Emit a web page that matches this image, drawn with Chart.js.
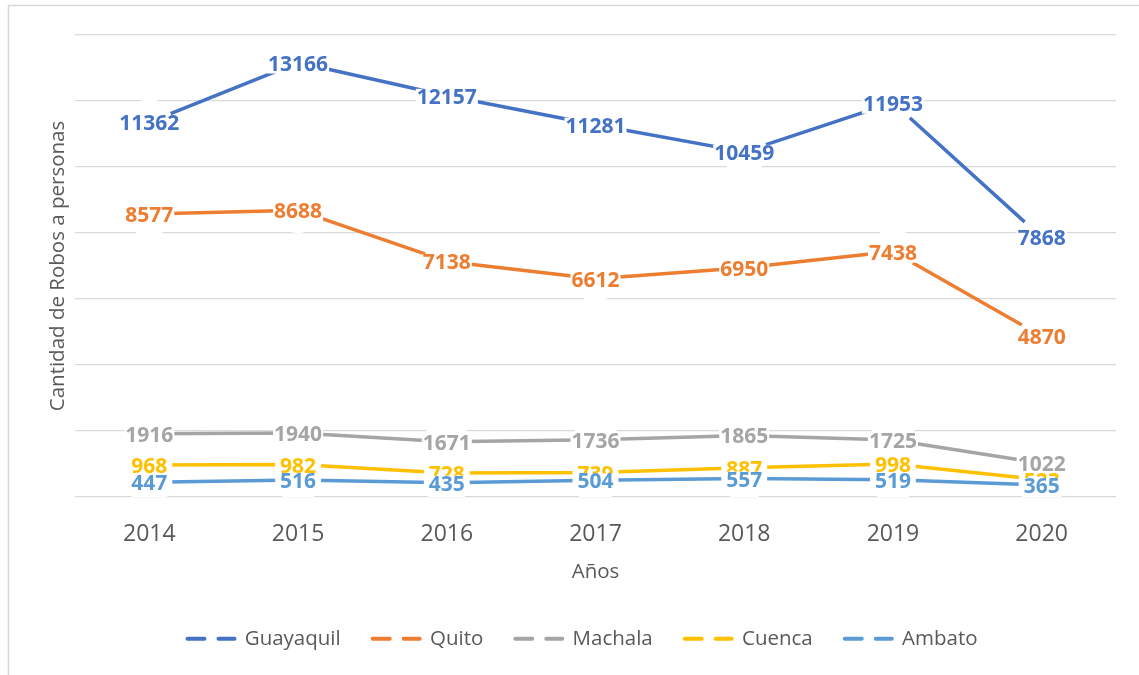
<!DOCTYPE html>
<html><head><meta charset="utf-8">
<script src="https://cdn.jsdelivr.net/npm/chart.js@4.4.1/dist/chart.umd.min.js"></script>
<style>html,body{margin:0;padding:0;background:#fff;} #wrap{width:1139px;height:675px;position:relative;}</style>
</head><body><div id="wrap"><canvas id="c"></canvas></div>
<script>
const categories = ['2014','2015','2016','2017','2018','2019','2020'];
const guayaquil = [11362,13166,12157,11281,10459,11953,7868];
const quito = [8577,8688,7138,6612,6950,7438,4870];
const machala = [1916,1940,1671,1736,1865,1725,1022];
const cuenca = [968,982,728,739,887,998,523];
const ambato = [447,516,435,504,557,519,365];
const seriesNames = ['Guayaquil','Quito','Machala','Cuenca','Ambato'];
const seriesValues = [guayaquil, quito, machala, cuenca, ambato];
const seriesColors = ['#4472C4','#ED7D31','#A5A5A5','#FFC000','#5B9BD5'];
const yTitle = 'Cantidad de Robos a personas';
const xTitle = 'Años';
const yMin = 0, yMax = 14000, yStep = 2000;

const FONT = "'Open Sans', sans-serif";
const TEXT = '#595959';

const framePlugin = {
  id: 'frame',
  beforeDraw(chart) {
    const ctx = chart.ctx;
    ctx.save();
    ctx.fillStyle = '#fff';
    ctx.fillRect(0, 0, chart.width, chart.height);
    ctx.strokeStyle = '#d9d9d9';
    ctx.lineWidth = 1.5;
    ctx.beginPath();
    ctx.moveTo(8.5, chart.height);
    ctx.lineTo(8.5, 5.5);
    ctx.lineTo(chart.width, 5.5);
    ctx.stroke();
    ctx.restore();
  }
};

const labelPlugin = {
  id: 'valueLabels',
  afterDatasetsDraw(chart) {
    const ctx = chart.ctx;
    ctx.save();
    ctx.font = "bold 21px " + FONT;
    ctx.textAlign = 'center';
    ctx.textBaseline = 'middle';
    chart.data.datasets.forEach((ds, i) => {
      const meta = chart.getDatasetMeta(i);
      meta.data.forEach((pt, j) => {
        const txt = String(ds.data[j]);
        const w = ctx.measureText(txt).width;
        const x = pt.x, y = pt.y + 2;
        ctx.fillStyle = '#fff';
        ctx.fillRect(x - w / 2 - 1, y - 9, w + 2, 18);
        ctx.fillStyle = ds.borderColor;
        ctx.fillText(txt, x, y);
      });
    });
    ctx.restore();
  }
};

const datasets = seriesNames.map((name, i) => ({
  label: name,
  data: seriesValues[i],
  borderColor: seriesColors[i],
  backgroundColor: seriesColors[i],
  borderWidth: 3.5,
  borderCapStyle: 'round',
  borderJoinStyle: 'round',
  tension: 0,
  fill: false,
  pointRadius: 23,
  pointHoverRadius: 23,
  pointBorderWidth: 0,
  pointBackgroundColor: '#ffffff',
  pointBorderColor: '#ffffff'
}));

new Chart(document.getElementById('c'), {
  type: 'line',
  data: { labels: categories, datasets },
  plugins: [framePlugin, labelPlugin],
  options: {
    responsive: true,
    maintainAspectRatio: false,
    animation: false,
    events: [],
    layout: { padding: { left: 46, right: 20, top: 35, bottom: 16 } },
    plugins: {
      tooltip: { enabled: false },
      legend: {
        position: 'bottom',
        labels: {
          usePointStyle: true,
          pointStyleWidth: 47,
          padding: 32,
          color: TEXT,
          font: { family: FONT, size: 20.5 },
          generateLabels(chart) {
            return chart.data.datasets.map((ds, i) => ({
              text: ds.label,
              fillStyle: ds.borderColor,
              strokeStyle: ds.borderColor,
              lineWidth: 4,
              lineDash: [17, 14],
              lineCap: 'round',
              pointStyle: 'line',
              fontColor: TEXT,
              hidden: false,
              datasetIndex: i
            }));
          }
        }
      }
    },
    scales: {
      x: {
        offset: true,
        grid: { display: false, drawTicks: false },
        border: { display: false },
        ticks: { color: TEXT, font: { family: FONT, size: 23 }, padding: 24 },
        title: { display: true, text: xTitle, color: TEXT, font: { family: FONT, size: 20.5 }, padding: { top: 0, bottom: 12 } },
        afterFit(s) { s.height = 99.5; }
      },
      y: {
        min: yMin, max: yMax,
        ticks: { display: false, stepSize: yStep },
        grid: { color: '#d9d9d9', lineWidth: 1.3, drawTicks: false },
        border: { display: false },
        title: { display: true, text: yTitle, color: TEXT, font: { family: FONT, size: 20.5 }, padding: { top: 0, bottom: 0 } },
        afterFit(s) { s.width = 29; }
      }
    }
  }
});
</script></body></html>
